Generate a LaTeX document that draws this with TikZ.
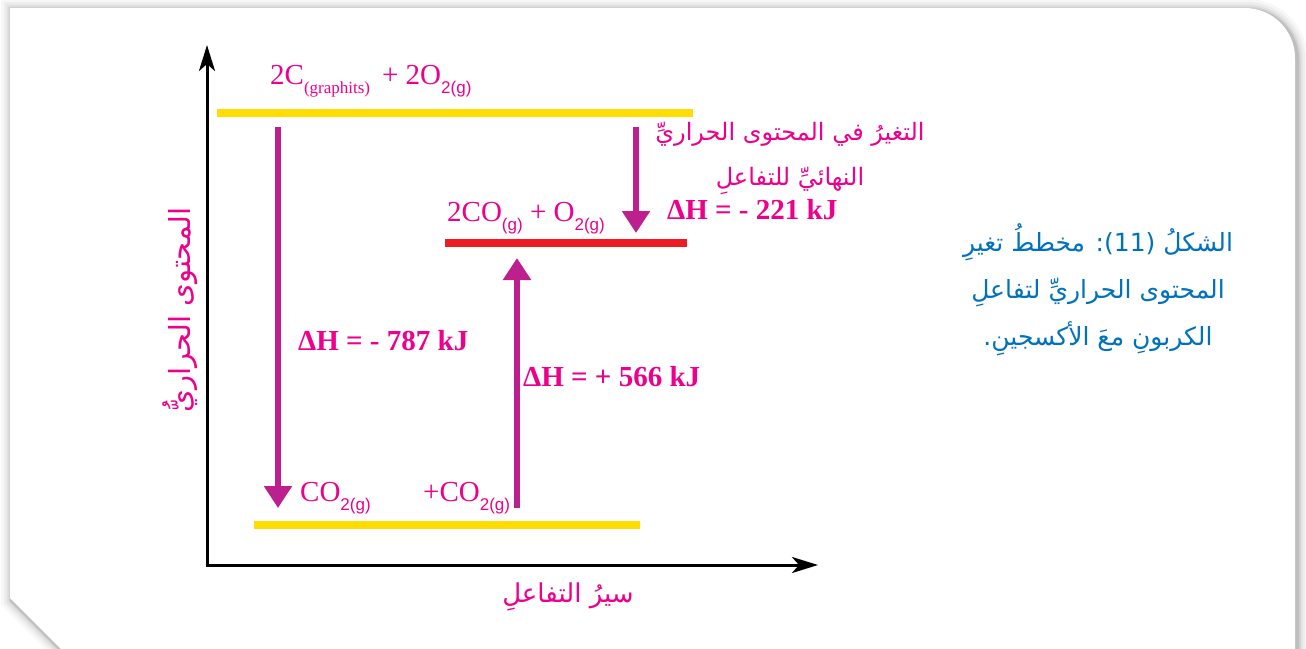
\documentclass[tikz,border=0pt]{standalone}
\usepackage{fontspec}
\setmainfont{Liberation Serif}
\newfontfamily\arabicfont[Script=Arabic]{DejaVu Sans}
\newfontfamily\subfont{Liberation Sans}
\TeXXeTstate=1
\usetikzlibrary{arrows.meta, positioning}
\definecolor{levelyellow}{RGB}{255,221,0}
\definecolor{levelred}{RGB}{237,28,36}
\definecolor{arrowmag}{RGB}{187,32,142}
\definecolor{labelpink}{RGB}{236,0,140}
\definecolor{captionblue}{RGB}{0,114,188}
\newcommand{\gsub}[1]{\raisebox{-0.32em}{\fontsize{17}{17}\selectfont #1}}
\newcommand{\ssub}[1]{\raisebox{-0.32em}{\fontsize{17}{17}\subfont #1}}
\newcommand{\panelpath}{(10,598) -- (10,8) -- (1245,8) .. controls (1272.6,8) and (1295,30.4) .. (1295,58) -- (1295,700) -- (112,700) -- cycle}

\begin{document}
\begin{tikzpicture}[x=1pt, y=-1pt,
    level/.style={line width=8pt},
    shiftarrow/.style={draw=arrowmag, line width=6pt, -{Triangle[length=22pt,width=27pt]}},
    axis/.style={line width=3pt, -{Stealth[length=26pt,width=16pt,inset=7pt]}},
    formula/.style={anchor=base west, inner sep=0pt, text=labelpink, font=\fontsize{29}{34}\selectfont},
    enthalpy/.style={formula, font=\fontsize{29}{34}\selectfont\bfseries},
    arlabel/.style={text=labelpink, align=center, inner sep=0pt, font=\fontsize{24}{45}\arabicfont},
    caption/.style={text=captionblue, align=center, inner sep=0pt, font=\fontsize{25}{47}\arabicfont}]
    \useasboundingbox (0,0) rectangle (1306,648);

    % Panel with shadow
    \foreach \w/\op in {22/0.03, 16/0.04, 11/0.05, 7/0.07, 4/0.09}
        \draw[line width=\w pt, black, opacity=\op, shift={(2,2)}] \panelpath;
    \fill[white] \panelpath;

    % Axes
    \coordinate (origin) at (207,565);
    \coordinate (ytip) at (207,45);
    \coordinate (xtip) at (818,565);
    \draw[axis] (origin) -- (ytip);
    \draw[axis] ([xshift=-1.5pt]origin) -- (xtip);

    % Energy levels
    \coordinate (topL) at (217,113);
    \coordinate (topR) at (693,113);
    \coordinate (midL) at (445,243);
    \coordinate (midR) at (687,243);
    \coordinate (botL) at (254,525);
    \coordinate (botR) at (640,525);
    \draw[level, levelyellow] (topL) -- (topR);
    \draw[level, levelred] (midL) -- (midR);
    \draw[level, levelyellow] (botL) -- (botR);

    % Species
    \node[formula] (reactants) at (270,84) {2C\gsub{(graphits)}\hspace{12pt}+ 2O\ssub{2(g)}};
    \node[formula] (intermediate) at (447,221) {2CO\ssub{(g)} + O\ssub{2(g)}};
    \node[formula] (product) at (300,501) {CO\ssub{2(g)}};
    \node[formula] (productb) at (423,501) {+CO\ssub{2(g)}};

    % Enthalpy changes
    \coordinate (s1) at (278,127);
    \coordinate (e1) at (278,508);
    \coordinate (s2) at (517,508);
    \coordinate (e2) at (517,258);
    \coordinate (s3) at (636,127);
    \coordinate (e3) at (636,233);
    \draw[shiftarrow] (s1) -- (e1);
    \draw[shiftarrow] (s2) -- (e2);
    \draw[shiftarrow] (s3) -- (e3);
    \node[enthalpy] (dh1) at (298,350) {ΔH = - 787 kJ};
    \node[enthalpy] (dh2) at (523,386) {ΔH = + 566 kJ};
    \node[enthalpy] (dh3) at (667,219) {ΔH = - 221 kJ};
    \node[arlabel] (overall) at (790,158) {\beginR التغيرُ في المحتوى الحراريِّ\endR\\\beginR النهائيِّ للتفاعلِ\endR};

    % Axis titles
    \node[arlabel, rotate=90, font=\fontsize{29}{30}\arabicfont] (ytitle) at (180,310) {\beginR المحتوى الحراريُّ\endR};
    \node[arlabel, font=\fontsize{26}{30}\arabicfont] (xtitle) at (568,597) {\beginR سيرُ التفاعلِ\endR};

    % Caption
    \node[caption] (figcap) at (1098,290) {\beginR الشكلُ \beginL(11)\endL: مخططُ تغيرِ\endR\\\beginR المحتوى الحراريِّ لتفاعلِ\endR\\\beginR الكربونِ معَ الأكسجينِ.\endR};
\end{tikzpicture}
\end{document}
